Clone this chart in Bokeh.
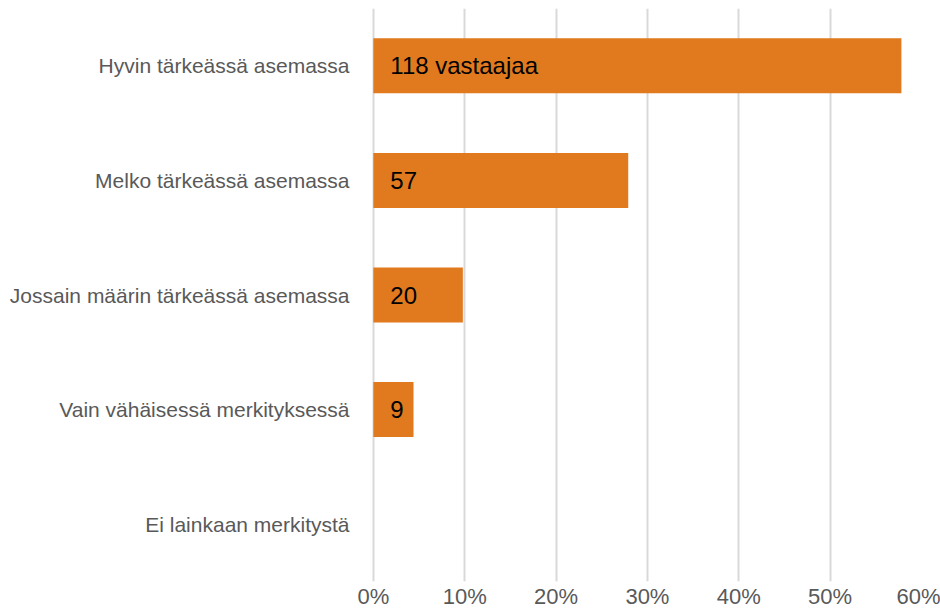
from bokeh.plotting import figure
from bokeh.models import ColumnDataSource, FixedTicker
from bokeh.core.properties import value
from bokeh.embed import file_html
from bokeh.resources import INLINE

categories = ["Hyvin tärkeässä asemassa", "Melko tärkeässä asemassa",
              "Jossain määrin tärkeässä asemassa", "Vain vähäisessä merkityksessä",
              "Ei lainkaan merkitystä"]
percent = [57.8, 27.9, 9.8, 4.4, 0.0]
bar_labels = ["118 vastaajaa", "57", "20", "9", ""]
x_ticks = [0, 10, 20, 30, 40, 50, 60]
x_tick_labels = ["0%", "10%", "20%", "30%", "40%", "50%", "60%"]

src = ColumnDataSource(dict(cat=categories, pct=percent, lab=bar_labels,
                            zero=[0] * len(categories)))

FONT = "Liberation Sans"

p = figure(width=940, height=611, y_range=list(reversed(categories)),
           x_range=(-0.2, 60), output_backend="svg", toolbar_location=None,
           min_border_left=371, min_border_right=19, min_border_top=8,
           min_border_bottom=0)

p.hbar(y="cat", right="pct", left=0, height=0.48, source=src,
       fill_color="#E17A1F", line_color=None)

p.text(x="zero", y="cat", text="lab", source=src, x_offset=17,
       text_baseline="middle", text_align="left", text_color="#000000",
       text_font=value(FONT), text_font_size="24px")

p.outline_line_color = None
p.background_fill_color = "white"
p.ygrid.grid_line_color = None
p.xgrid.grid_line_color = "#D9D9D9"
p.xgrid.grid_line_width = 2
p.xaxis.ticker = FixedTicker(ticks=x_ticks)
p.xaxis.major_label_overrides = {t: l for t, l in zip(x_ticks, x_tick_labels)}
p.xgrid.ticker = FixedTicker(ticks=x_ticks)

for ax in (p.xaxis, p.yaxis):
    ax.axis_line_color = None
    ax.major_tick_line_color = None
    ax.minor_tick_line_color = None
    ax.major_label_text_color = "#595959"
    ax.major_label_text_font = FONT

p.yaxis.major_label_text_font_size = "21px"
p.xaxis.major_label_text_font_size = "22px"
p.xaxis.major_label_standoff = -4
p.yaxis.major_label_standoff = 16

open("out.html", "w").write(file_html(p, INLINE))
